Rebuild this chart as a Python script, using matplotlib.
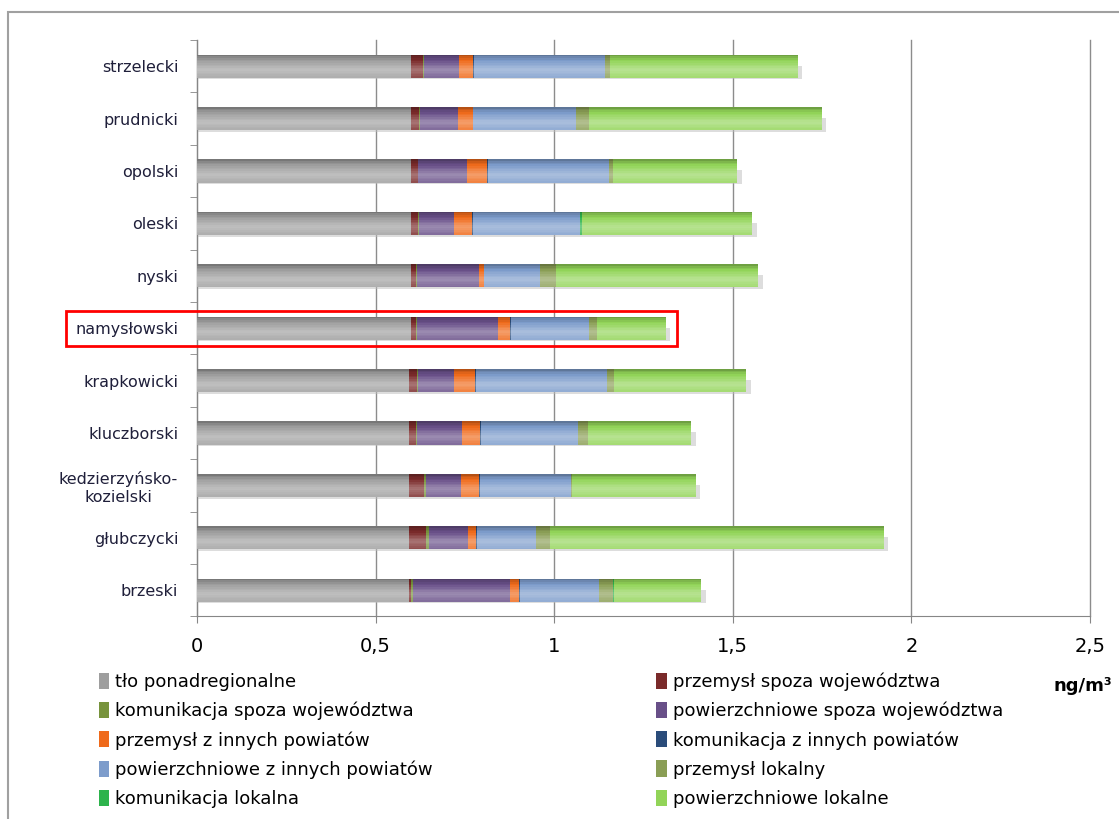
import matplotlib
matplotlib.use("Agg")
import matplotlib.pyplot as plt
from matplotlib.patches import Rectangle, Patch
from matplotlib.colors import to_rgb
import numpy as np

plt.rcParams['font.family'] = ['DejaVu Sans']

# powiaty, od góry do dołu
powiaty = ['strzelecki', 'prudnicki', 'opolski', 'oleski', 'nyski', 'namysłowski',
           'krapkowicki', 'kluczborski', 'kedzierzyńsko-\nkozielski', 'głubczycki', 'brzeski']

tlo_ponadregionalne = [0.600, 0.600, 0.600, 0.600, 0.600, 0.600, 0.595, 0.595, 0.595, 0.595, 0.595]
przemysl_spoza = [0.032, 0.021, 0.018, 0.018, 0.013, 0.013, 0.022, 0.019, 0.040, 0.045, 0.005]
komunikacja_spoza = [0.003, 0.003, 0.002, 0.003, 0.002, 0.002, 0.002, 0.002, 0.005, 0.009, 0.006]
powierzchniowe_spoza = [0.100, 0.107, 0.137, 0.100, 0.174, 0.229, 0.100, 0.126, 0.100, 0.110, 0.271]
przemysl_inne = [0.039, 0.041, 0.056, 0.050, 0.014, 0.033, 0.059, 0.050, 0.050, 0.023, 0.026]
komunikacja_inne = [0.003, 0.002, 0.002, 0.002, 0.002, 0.002, 0.002, 0.002, 0.002, 0.002, 0.002]
powierzchniowe_inne = [0.366, 0.288, 0.338, 0.300, 0.156, 0.219, 0.369, 0.274, 0.256, 0.165, 0.222]
przemysl_lokalny = [0.013, 0.037, 0.012, 0.000, 0.043, 0.022, 0.019, 0.026, 0.003, 0.039, 0.037]
komunikacja_lokalna = [0.000, 0.000, 0.000, 0.006, 0.000, 0.000, 0.000, 0.000, 0.000, 0.000, 0.004]
powierzchniowe_lokalne = [0.526, 0.651, 0.348, 0.476, 0.568, 0.193, 0.370, 0.290, 0.345, 0.936, 0.244]

nazwy = ['tło ponadregionalne', 'przemysł spoza województwa', 'komunikacja spoza województwa',
         'powierzchniowe spoza województwa', 'przemysł z innych powiatów',
         'komunikacja z innych powiatów', 'powierzchniowe z innych powiatów',
         'przemysł lokalny', 'komunikacja lokalna', 'powierzchniowe lokalne']
kolory = ['#9e9e9e', '#7a2a2a', '#77933c', '#684f88', '#ef6a1b',
          '#2a4c7a', '#7d9ccb', '#8a9e55', '#2db34c', '#92d458']

serie = [tlo_ponadregionalne, przemysl_spoza, komunikacja_spoza, powierzchniowe_spoza,
         przemysl_inne, komunikacja_inne, powierzchniowe_inne, przemysl_lokalny,
         komunikacja_lokalna, powierzchniowe_lokalne]


def odcien(kol, f):
    c = np.array(to_rgb(kol))
    if f >= 0:
        return tuple(c + (1 - c) * f)
    return tuple(c * (1 + f))


fig = plt.figure(figsize=(11.19, 8.19), dpi=100)
ax = fig.add_axes([0.176, 0.2473, 0.798, 0.7039])

y = np.arange(len(powiaty))
h = 0.44
suma = np.sum(np.array(serie), axis=0)

# cien pod slupkami
ax.barh(y + 0.12, suma + 0.012, height=h * 0.6, color='#bdbdbd', alpha=0.5, zorder=2, lw=0)

# gradient: paski w poprzek slupka
n = 14
t = (np.arange(n) + 0.5) / n
profil = np.interp(t, [0, 0.12, 0.65, 1.0], [-0.3, -0.12, 0.35, 0.15])

lewo = np.zeros(len(powiaty))
for vals, kol in zip(serie, kolory):
    v = np.array(vals)
    for k in range(n):
        ax.barh(y - h / 2 + (k + 0.5) * h / n, v, left=lewo, height=h / n * 1.02,
                color=odcien(kol, profil[k]), lw=0, zorder=3)
    lewo += v

ax.set_xlim(0, 2.5)
ax.set_ylim(len(powiaty) - 0.5, -0.5)
ax.set_xticks([0, 0.5, 1, 1.5, 2, 2.5])
ax.set_xticklabels(['0', '0,5', '1', '1,5', '2', '2,5'], fontsize=14)
ax.set_yticks(y)
ax.set_yticklabels(powiaty, fontsize=11.5, color='#1f1f3a', multialignment='center')
ax.set_yticks(np.arange(-0.5, len(powiaty)), minor=True)
ax.tick_params(axis='y', which='major', length=0, pad=13.5)
ax.tick_params(axis='y', which='minor', length=5, color='#868686', direction='out')
ax.tick_params(axis='x', length=5, color='#868686', pad=10)
ax.grid(axis='x', color='#8c8c8c', lw=1, zorder=0)
for gl in ax.get_xgridlines():
    gl.set_clip_on(False)
ax.set_axisbelow(True)
for s in ['top', 'right']:
    ax.spines[s].set_visible(False)
for s in ['left', 'bottom']:
    ax.spines[s].set_color('#868686')

# ramka wokol powiatu namyslowskiego
ax.add_patch(Rectangle((-0.367, 5 - 0.33), suma[5] + 0.03 + 0.367, 0.66,
                       fill=False, ec='#ff0000', lw=2, clip_on=False, zorder=6))

# legenda (wiersze jak w oryginale)
kolejnosc = [0, 2, 4, 6, 8, 1, 3, 5, 7, 9]
uchwyty = [Patch(facecolor=kolory[i], label=nazwy[i]) for i in kolejnosc]
fig.legend(handles=uchwyty, ncol=2, loc='upper left', bbox_to_anchor=(0.08, 0.19),
           frameon=False, fontsize=13, handlelength=0.6, handleheight=1.0,
           handletextpad=0.3, labelspacing=0.6, columnspacing=12.4, borderpad=0)

fig.text(0.994, 0.163, 'ng/m³', fontsize=13, fontweight='bold', ha='right', va='center')

# zewnetrzna ramka wykresu
fig.add_artist(Rectangle((0.007, -0.1), 1.2, 1.085, transform=fig.transFigure,
                         fill=False, ec='#a0a0a0', lw=1.5))

fig.savefig('out.png', dpi=100)
